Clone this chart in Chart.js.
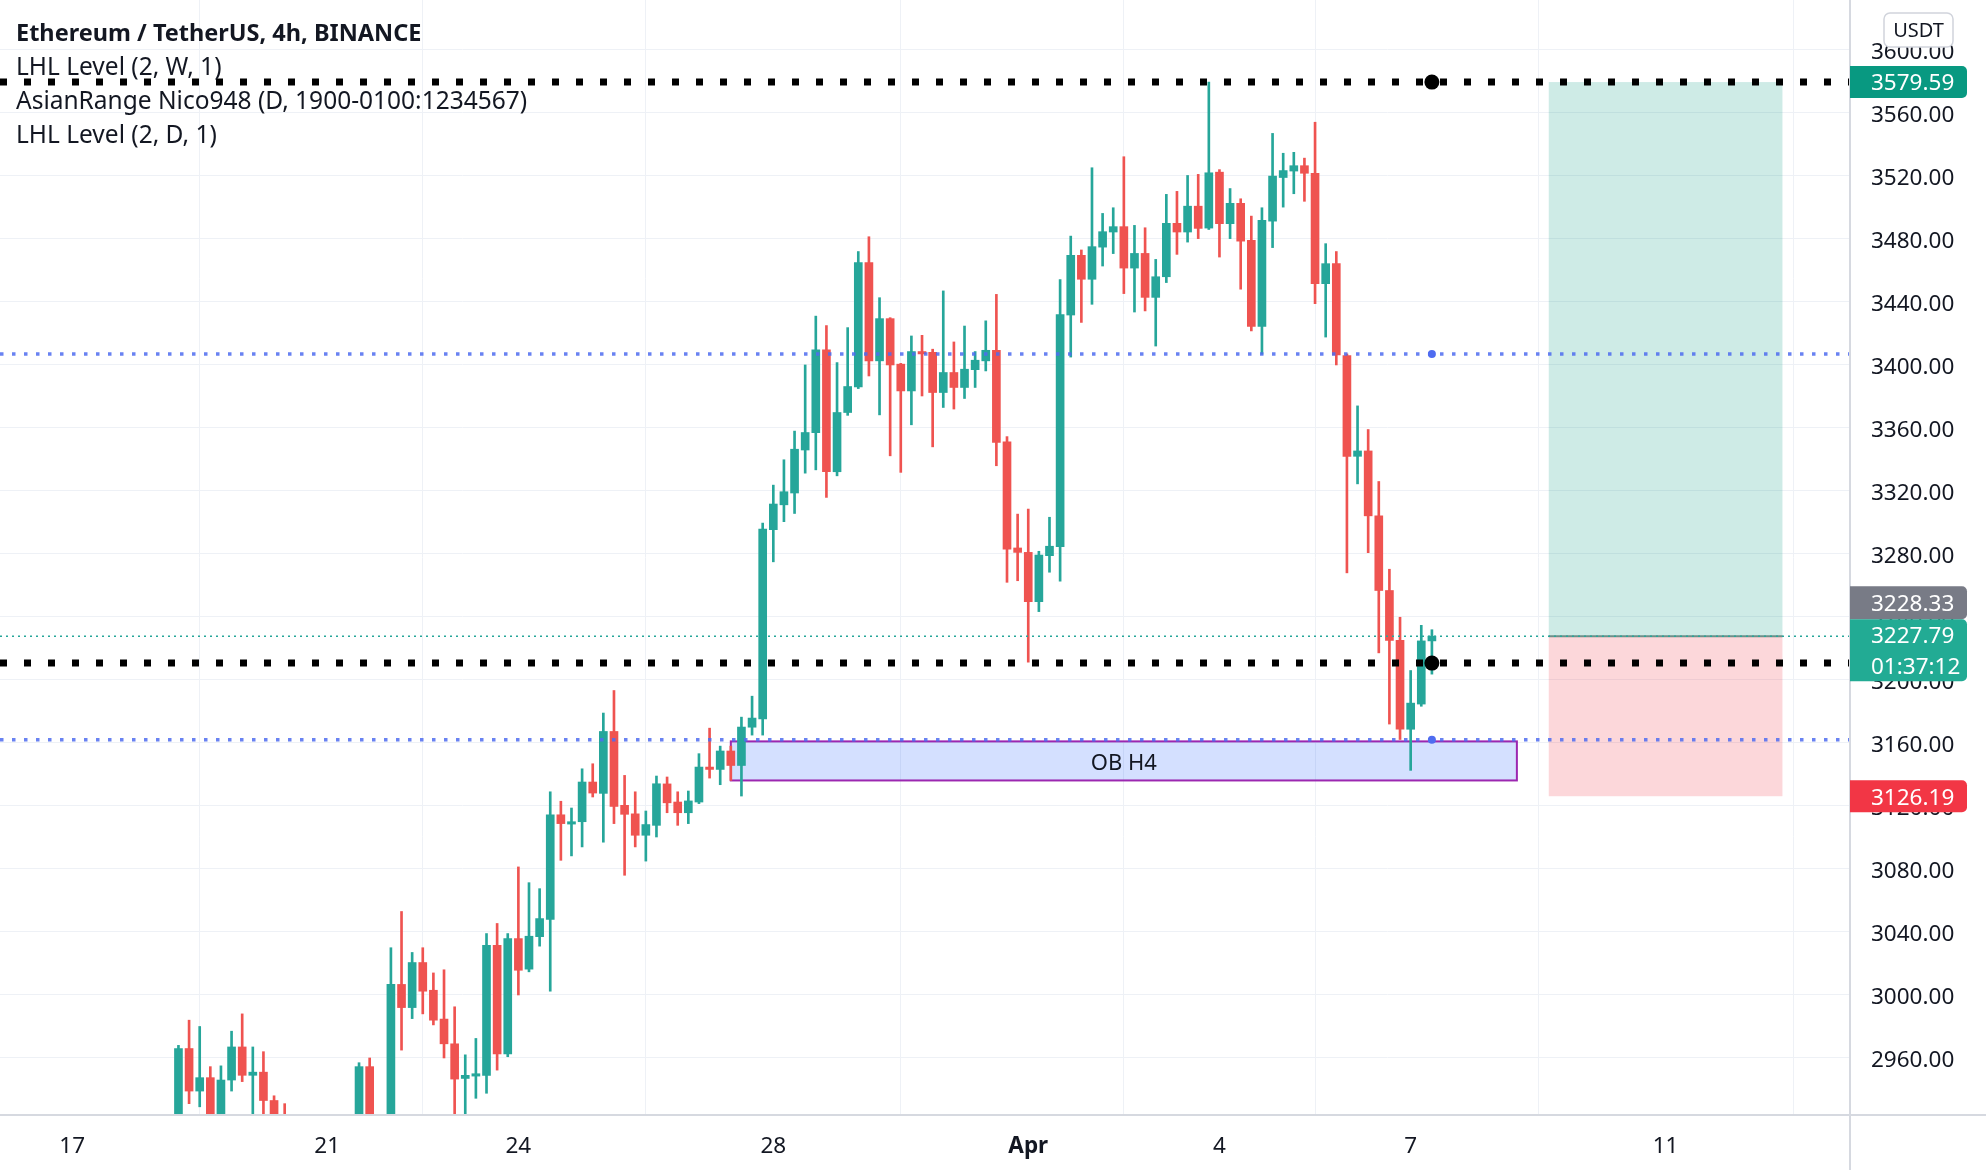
<!DOCTYPE html>
<html>
<head>
<meta charset="utf-8">
<script src="https://cdn.jsdelivr.net/npm/chart.js@4.4.1/dist/chart.umd.min.js"></script>
<style>
  body { margin: 0; background: #fff; }
  #wrap { position: relative; width: 1986px; height: 1170px; }
  #chart { display: block; }
  #legend { position: absolute; left: 16px; top: 15px; font-family: 'Noto Sans', sans-serif; font-size: 24.5px; color: #131722; line-height: 34px; }
  #legend .title { font-weight: bold; font-size: 23.5px; }
</style>
</head>
<body>
<div id="wrap">
  <canvas id="chart" width="1986" height="1170"></canvas>
  <div id="legend">
    <div class="title">Ethereum / TetherUS, 4h, BINANCE</div>
    <div>LHL Level (2, W, 1)</div>
    <div>AsianRange Nico948 (D, 1900-0100:1234567)</div>
    <div>LHL Level (2, D, 1)</div>
  </div>
</div>
<script>
// 4h candles, first one Mar 18 16:00 (null = not visible in the picture)
var origin = Date.UTC(2024, 2, 17, 0);
var firstCandle = Date.UTC(2024, 2, 18, 16);

var opens = [2912, 2966, 2939, 2947.5, 2920, 2946, 2967, 2949, 2951, 2933, 2918,
  null, null, null, null, null, null,
  2915, 2954.5, null, 2915, 3006.7, 2992, 3020.6, 3003, 2984.7, 2969, 2947, 2948.5, 2949,
  3031.6, 2962.5, 3035.8, 3016.4, 3037, 3048, 3114.4, 3108.5, 3110, 3135.2,
  3128, 3167.3, 3120.4, 3115, 3101.4, 3107.7, 3134, 3122.5, 3115.7, 3122.5,
  3144.7, 3143.2, 3154.9, 3145.7, 3170, 3175.3, 3295.4, 3311.2, 3318.7, 3346,
  3357, 3409.6, 3332.2, 3369.8, 3386, 3465, 3402.6, 3429.4, 3400.5, 3383.5,
  3408.5, 3408, 3382.5, 3395.2, 3385.7, 3397, 3402.6, 3409.3, 3351.2, 3283.8,
  3281, 3249.7, 3278.9, 3284.6, 3431.7, 3469.6, 3454.4, 3474.8, 3484.4, 3487.8,
  3461.5, 3470.8, 3442.9, 3456, 3489.9, 3484.4, 3500.8, 3486.9, 3522.4, 3489.7,
  3502.6, 3479.1, 3424.4, 3491.3, 3519, 3523.1, 3526.5, 3521.7, 3451.6, 3464.3,
  3405.9, 3342, 3345.4, 3304.2, 3256.8, 3225.1, 3168.7, 3184.7, 3224.8];
var highs = [2968, 2984, 2980, 2954.5, 2955, 2977, 2988, 2967, 2964, 2936, 2931,
  null, null, null, null, null, null,
  2957, 2960, null, 3030, 3053, 3027, 3030, 3014, 3016, 2992.5, 2962, 2972.4, 3039,
  3045.4, 3039, 3081.3, 3071.3, 3067.5, 3129, 3123, 3118.7, 3143.6, 3146.8,
  3179, 3193.3, 3139.4, 3129, 3116.8, 3139, 3138.4, 3129, 3129.5, 3153.2,
  3169.4, 3158, 3158, 3176.4, 3189.7, 3299.6, 3323.7, 3339.8, 3358, 3400,
  3431, 3425, 3401.5, 3423.7, 3472, 3481.4, 3442.7, 3430, 3401, 3418.4,
  3418.8, 3410, 3447, 3414.6, 3424.7, 3408.5, 3428, 3444.8, 3354.5, 3305.3,
  3308.5, 3281.7, 3303.3, 3454.2, 3481.8, 3473, 3525.2, 3496.2, 3499.8, 3532.2,
  3488.6, 3487.1, 3467, 3508.3, 3510.2, 3520.3, 3521, 3579.59, 3524, 3512,
  3505.5, 3494.5, 3499.8, 3547, 3534.4, 3535, 3531.3, 3554.1, 3477, 3472,
  3407, 3374, 3359, 3326, 3270.3, 3239.8, 3206, 3234.7, 3231.9];
var lows = [2905, 2931, 2929, 2915, 2915, 2939, 2945, 2920, 2922, 2915, 2905,
  null, null, null, null, null, null,
  2905, 2910, null, 2910, 2965, 2985, 2988, 2981, 2960, 2920, 2922, 2934.4, 2937.6,
  2952.3, 2960.8, 3000, 3014.7, 3031, 3002.4, 3085.5, 3088.3, 3094, 3125.7,
  3097, 3108.8, 3076, 3094, 3085, 3100.3, 3115.7, 3107.7, 3108.8, 3121.5,
  3137.7, 3133.5, 3136.2, 3126.3, 3165, 3165, 3275, 3300.5, 3305.7, 3331.3,
  3333.4, 3315.9, 3329.6, 3368, 3385, 3393, 3368.3, 3342.3, 3331.8, 3362,
  3380.3, 3348, 3373, 3372, 3378.7, 3385.7, 3396.2, 3336, 3262, 3263,
  3211.3, 3243.4, 3268.4, 3262.7, 3405, 3427, 3438.5, 3462.8, 3470.7, 3445.3,
  3433.6, 3434.3, 3412, 3452.3, 3470.2, 3478, 3480.2, 3486, 3468.5, 3480.2,
  3448.1, 3421.6, 3406.8, 3474.5, 3500.2, 3508.7, 3503.9, 3438.9, 3417.7, 3400,
  3268, 3324.5, 3280.8, 3217.2, 3172, 3162.2, 3142.6, 3183.3, 3203.7];
var closes = [2966, 2939, 2947.5, 2920, 2946, 2967, 2949, 2951, 2933, 2918, 2912,
  null, null, null, null, null, null,
  2954.5, 2918, null, 3006.7, 2992, 3020.6, 3002.4, 2984, 2969, 2946.6, 2949, 2950, 3031.6,
  2962.5, 3035.8, 3015.7, 3037.3, 3048.5, 3114.4, 3108.8, 3110, 3135.2, 3128.2,
  3167.3, 3119.7, 3114.7, 3101.4, 3108.2, 3134.1, 3122, 3115.7, 3123.2, 3144.7,
  3143.2, 3154.9, 3145.7, 3170.1, 3175.8, 3295.8, 3311.7, 3319.5, 3346.5, 3357.1,
  3409.6, 3332.2, 3369.8, 3386.3, 3465, 3402.6, 3429.4, 3400, 3383.5, 3408.5,
  3407, 3382.5, 3395.2, 3385.7, 3397.3, 3403, 3409.3, 3350.8, 3283, 3281,
  3249.7, 3279.3, 3284.9, 3432, 3469.6, 3454.4, 3475.1, 3484.6, 3487.8, 3461.5,
  3470.8, 3442.9, 3456, 3489.9, 3484.4, 3500.8, 3486.7, 3522, 3489.7, 3502.6,
  3478.6, 3424.4, 3491.8, 3519.9, 3523.4, 3526.5, 3521.7, 3451.6, 3464.3, 3406.4,
  3342, 3345.4, 3304.2, 3256.8, 3225.1, 3168.7, 3185.3, 3224.8, 3227.79];

var dayTicks = ['2024-03-17', '2024-03-21', '2024-03-24', '2024-03-28', '2024-04-01', '2024-04-04', '2024-04-07', '2024-04-11'];
var dayLabels = ['17', '21', '24', '28', 'Apr', '4', '7', '11'];
var priceTicks = [2960, 3000, 3040, 3080, 3120, 3160, 3200, 3240, 3280, 3320, 3360, 3400, 3440, 3480, 3520, 3560, 3600];

var lhlLevels = [3579.59, 3210.7];
var asianRange = [3407, 3162];
var lastPrice = 3227.79;
var bidPrice = 3228.33;
var countdown = '01:37:12';
var obZone = [3136.2, 3161];
var obSpan = ['2024-03-27T08:00Z', '2024-04-08T16:00Z'];
var trade = { entry: 3227.79, target: 3579.59, stop: 3126.19, from: '2024-04-09T04:00Z', to: '2024-04-12T20:00Z' };
var markerTime = '2024-04-07T08:00Z';

var UP = '#26a69a', DOWN = '#ef5350';
var H4 = 4 * 3600 * 1000;
function slot(t) { return (new Date(t).getTime() - origin) / H4; }

var xMin = -6.8, xMax = 167.36, yMin = 2923.8, yMax = 3631.7;

var wicks = [], bodies = [], colors = [];
for (var i = 0; i < opens.length; i++) {
  if (opens[i] == null) continue;
  var s = (firstCandle - origin) / H4 + i;
  wicks.push({ x: s, y: [lows[i], highs[i]] });
  bodies.push({ x: s, y: [opens[i], closes[i]] });
  colors.push(closes[i] >= opens[i] ? UP : DOWN);
}
var tickSlots = dayTicks.map(function (d) { return slot(d + 'T00:00Z'); });

function hline(v, color, width, dash) {
  return {
    type: 'line', data: [{ x: xMin, y: v }, { x: xMax, y: v }],
    borderColor: color, borderWidth: width, borderDash: dash, borderCapStyle: 'butt',
    pointRadius: 0, order: 0, clip: 0
  };
}

var datasets = [
  hline(lastPrice, UP, 1.5, [2, 4]),
  hline(asianRange[0], 'rgba(79,108,240,0.85)', 3.5, [3.5, 8.5]),
  hline(asianRange[1], 'rgba(79,108,240,0.85)', 3.5, [3.5, 8.5]),
  hline(lhlLevels[0], '#000', 7, [7, 17]),
  hline(lhlLevels[1], '#000', 7, [7, 17]),
  { type: 'bar', data: wicks, backgroundColor: colors, barThickness: 2, grouped: false, order: 2, clip: 0 },
  { type: 'bar', data: bodies, backgroundColor: colors, barThickness: 8, minBarLength: 2, grouped: false, order: 1, clip: 0 }
];

function tag(ctx, x, top, h, bg, lines) {
  ctx.fillStyle = bg;
  ctx.beginPath();
  ctx.roundRect(x, top, 117, h, [0, 5, 5, 0]);
  ctx.fill();
  ctx.fillStyle = '#fff';
  ctx.font = '22.5px "Noto Sans"';
  ctx.textAlign = 'left';
  ctx.textBaseline = 'middle';
  for (var j = 0; j < lines.length; j++) ctx.fillText(lines[j], x + 21, top + h / lines.length * (j + 0.5) + 2);
}

var overlays = {
  id: 'overlays',
  beforeDatasetsDraw: function (chart) {
    var c = chart.ctx, x = chart.scales.x, y = chart.scales.y;
    c.save();
    // trade zones
    var l = x.getPixelForValue(slot(trade.from)), r = x.getPixelForValue(slot(trade.to));
    var yt = y.getPixelForValue(trade.target), ye = y.getPixelForValue(trade.entry), ys = y.getPixelForValue(trade.stop);
    c.fillStyle = 'rgba(8,153,129,0.2)';
    c.fillRect(l, yt, r - l, ye - yt);
    c.fillStyle = 'rgba(242,54,69,0.2)';
    c.fillRect(l, ye, r - l, ys - ye);
    c.strokeStyle = '#6f8f88';
    c.lineWidth = 2;
    c.beginPath(); c.moveTo(l, ye); c.lineTo(r, ye); c.stroke();
    // order block
    var bl = x.getPixelForValue(slot(obSpan[0])), br = x.getPixelForValue(slot(obSpan[1]));
    var bt = y.getPixelForValue(obZone[1]), bb = y.getPixelForValue(obZone[0]);
    c.fillStyle = 'rgba(41,98,255,0.2)';
    c.fillRect(bl, bt, br - bl, bb - bt);
    c.strokeStyle = '#9c27b0';
    c.lineWidth = 2;
    c.strokeRect(bl, bt, br - bl, bb - bt);
    c.fillStyle = '#131722';
    c.font = '22px "Noto Sans"';
    c.textAlign = 'center';
    c.textBaseline = 'middle';
    c.fillText('OB H4', (bl + br) / 2, (bt + bb) / 2 + 3);
    c.restore();
  },
  afterDatasetsDraw: function (chart) {
    var c = chart.ctx, x = chart.scales.x, y = chart.scales.y, a = chart.chartArea;
    c.save();
    var mx = x.getPixelForValue(slot(markerTime));
    c.fillStyle = '#000';
    lhlLevels.forEach(function (v) {
      c.beginPath(); c.arc(mx, y.getPixelForValue(v), 7.5, 0, Math.PI * 2); c.fill();
    });
    c.fillStyle = '#4f6cf0';
    asianRange.forEach(function (v) {
      c.beginPath(); c.arc(mx, y.getPixelForValue(v), 4, 0, Math.PI * 2); c.fill();
    });
    // frame lines
    c.strokeStyle = '#d6d9e0';
    c.lineWidth = 2;
    c.beginPath(); c.moveTo(0, a.bottom); c.lineTo(chart.width, a.bottom); c.stroke();
    c.beginPath(); c.moveTo(a.right, 0); c.lineTo(a.right, chart.height); c.stroke();
    // price tags
    var yl = y.getPixelForValue(lastPrice);
    tag(c, a.right, y.getPixelForValue(lhlLevels[0]) - 16, 32, '#089981', [lhlLevels[0].toFixed(2)]);
    tag(c, a.right, yl - 50, 33, '#787b86', [bidPrice.toFixed(2)]);
    tag(c, a.right, yl - 17, 62, '#22ab94', [lastPrice.toFixed(2), countdown]);
    tag(c, a.right, y.getPixelForValue(trade.stop) - 16, 32, '#f23645', [trade.stop.toFixed(2)]);
    // currency box
    c.fillStyle = '#fff';
    c.strokeStyle = '#d1d4dc';
    c.lineWidth = 1.5;
    c.beginPath(); c.roundRect(a.right + 34, 13, 69, 34, 6); c.fill(); c.stroke();
    c.fillStyle = '#131722';
    c.font = '20px "Noto Sans"';
    c.textAlign = 'center';
    c.textBaseline = 'middle';
    c.fillText('USDT', a.right + 68.5, 31);
    c.restore();
  }
};

var gridColor = '#eef1f6';
new Chart(document.getElementById('chart').getContext('2d'), {
  type: 'bar',
  data: { datasets: datasets },
  plugins: [overlays],
  options: {
    responsive: false,
    animation: false,
    layout: { padding: 0 },
    plugins: { legend: { display: false }, tooltip: { enabled: false } },
    scales: {
      x: {
        type: 'linear', min: xMin, max: xMax, offset: false,
        afterBuildTicks: function (s) { s.ticks = tickSlots.map(function (v) { return { value: v }; }); },
        afterFit: function (s) { s.height = 55; s.paddingLeft = 0; s.paddingRight = 0; },
        grid: { color: gridColor, drawTicks: false },
        border: { display: false },
        ticks: {
          autoSkip: false, maxRotation: 0, padding: 18, color: '#131722',
          font: function (c) { return { family: 'Noto Sans', size: 22.5, weight: dayLabels[c.index] === 'Apr' ? 'bold' : 'normal' }; },
          callback: function (v, i) { return dayLabels[i]; }
        }
      },
      y: {
        position: 'right', min: yMin, max: yMax,
        afterBuildTicks: function (s) { s.ticks = priceTicks.map(function (v) { return { value: v }; }); },
        afterFit: function (s) { s.width = 136; s.paddingTop = 0; s.paddingBottom = 0; },
        grid: { color: gridColor, drawTicks: false },
        border: { display: false },
        ticks: {
          padding: 21, labelOffset: 3, color: '#131722', font: { family: 'Noto Sans', size: 22.5 },
          callback: function (v) { return v.toFixed(2); }
        }
      }
    }
  }
});
</script>
</body>
</html>
